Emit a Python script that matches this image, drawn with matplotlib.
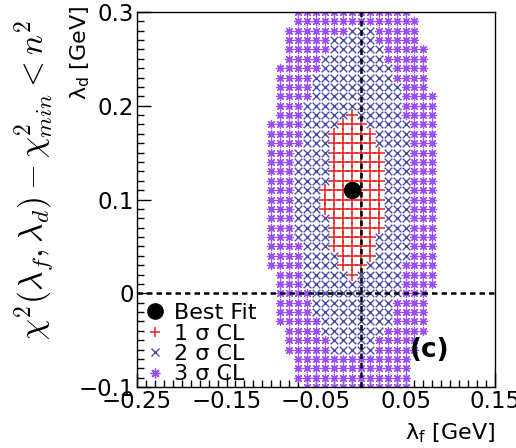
import numpy as np
import matplotlib
matplotlib.use('Agg')
import matplotlib.pyplot as plt
from matplotlib.lines import Line2D

# scan grid (GeV)
lam_f = [-0.10, -0.09, -0.08, -0.07, -0.06, -0.05, -0.04, -0.03, -0.02, -0.01,
         0.00, 0.01, 0.02, 0.03, 0.04, 0.05, 0.06, 0.07, 0.08]
lam_d = [0.30, 0.29, 0.28, 0.27, 0.26, 0.25, 0.24, 0.23, 0.22, 0.21, 0.20,
         0.19, 0.18, 0.17, 0.16, 0.15, 0.14, 0.13, 0.12, 0.11, 0.10,
         0.09, 0.08, 0.07, 0.06, 0.05, 0.04, 0.03, 0.02, 0.01, 0.00,
         -0.01, -0.02, -0.03, -0.04, -0.05, -0.06, -0.07, -0.08, -0.09, -0.10]

N = np.nan
# 3 sigma region extent per row
cl3_lo = [-0.07, -0.07, -0.08, -0.08, -0.08, -0.08, -0.09, -0.09, -0.09, -0.09, -0.09,
          -0.09, -0.10, -0.10, -0.10, -0.10, -0.10, -0.10, -0.10, -0.10, -0.10,
          -0.10, -0.10, -0.10, -0.10, -0.10, -0.10, -0.10, -0.09, -0.09, -0.09,
          -0.09, -0.09, -0.09, -0.08, -0.08, -0.08, -0.07, -0.07, -0.07, -0.06]
cl3_hi = [0.05, 0.06, 0.06, 0.06, 0.07, 0.07, 0.07, 0.07, 0.07, 0.08, 0.08,
          0.08, 0.08, 0.08, 0.08, 0.08, 0.08, 0.08, 0.08, 0.08, 0.08,
          0.08, 0.08, 0.08, 0.08, 0.08, 0.08, 0.08, 0.08, 0.08, 0.07,
          0.07, 0.07, 0.07, 0.07, 0.06, 0.06, 0.05, 0.05, 0.05, 0.05]
# 2 sigma region extent per row
cl2_lo = [N, N, -0.01, -0.03, -0.03, -0.04, -0.04, -0.05, -0.05, -0.05, -0.06,
          -0.06, -0.06, -0.06, -0.06, -0.07, -0.07, -0.07, -0.07, -0.07, -0.07,
          -0.07, -0.07, -0.07, -0.07, -0.06, -0.06, -0.06, -0.06, -0.06, -0.05,
          -0.05, -0.05, -0.04, -0.04, -0.03, -0.03, N, N, N, N]
cl2_hi = [N, N, 0.01, 0.01, 0.02, 0.02, 0.03, 0.03, 0.04, 0.04, 0.04,
          0.04, 0.05, 0.05, 0.05, 0.05, 0.05, 0.05, 0.05, 0.05, 0.05,
          0.05, 0.05, 0.05, 0.05, 0.05, 0.05, 0.04, 0.04, 0.04, 0.04,
          0.03, 0.03, 0.03, 0.02, 0.01, 0.01, N, N, N, N]
# 1 sigma region extent per row
cl1_lo = [N, N, N, N, N, N, N, N, N, N, N,
          -0.01, -0.02, -0.03, -0.03, -0.03, -0.03, -0.03, -0.03, -0.04, -0.04,
          -0.04, -0.03, -0.03, -0.03, -0.03, -0.02, -0.02, -0.01, N, N,
          N, N, N, N, N, N, N, N, N, N]
cl1_hi = [N, N, N, N, N, N, N, N, N, N, N,
          -0.01, 0.00, 0.01, 0.01, 0.02, 0.02, 0.02, 0.02, 0.02, 0.02,
          0.02, 0.02, 0.02, 0.01, 0.01, 0.01, 0.00, -0.01, N, N,
          N, N, N, N, N, N, N, N, N, N]

best_fit_f = -0.01
best_fit_d = 0.11

x_ticks = [-0.25, -0.15, -0.05, 0.05, 0.15]
x_ticklabels = ['\u22120.25', '\u22120.15', '\u22120.05', '0.05', '0.15']
y_ticks = [-0.1, 0.0, 0.1, 0.2, 0.3]
y_ticklabels = ['\u22120.1', '0', '0.1', '0.2', '0.3']

# classify grid points
def inside(v, lo, hi):
    return (not np.isnan(lo)) and (lo - 1e-9 <= v <= hi + 1e-9)

pts = {1: ([], []), 2: ([], []), 3: ([], [])}
for i, yd in enumerate(lam_d):
    for xf in lam_f:
        if not inside(xf, cl3_lo[i], cl3_hi[i]):
            continue
        if inside(xf, cl1_lo[i], cl1_hi[i]):
            k = 1
        elif inside(xf, cl2_lo[i], cl2_hi[i]):
            k = 2
        else:
            k = 3
        pts[k][0].append(xf)
        pts[k][1].append(yd)

c_red = '#e32222'
c_blue = '#4a4aaa'
c_purple = '#9b50f5'

fig = plt.figure(figsize=(5.16, 4.48), dpi=100)
ax = fig.add_axes([137/516, 61/448, 358/516, 375/448])

star = (8, 2, 0)
ax.scatter(pts[3][0], pts[3][1], marker=star, s=34, color=c_purple, linewidths=0.9, zorder=2)
ax.scatter(pts[2][0], pts[2][1], marker='x', s=30, color=c_blue, linewidths=1.0, zorder=2)
ax.scatter(pts[1][0], pts[1][1], marker='+', s=80, color=c_red, linewidths=1.1, zorder=2)

ax.axvline(0, color='black', lw=1.8, ls=(0, (2.2, 1.6)), zorder=3)
ax.axhline(0, color='black', lw=1.8, ls=(0, (2.2, 1.6)), zorder=3)

ax.plot([best_fit_f], [best_fit_d], 'o', color='black', ms=11.5, zorder=4)

ax.set_xlim(-0.25, 0.15)
ax.set_ylim(-0.1, 0.3)
ax.set_xticks(x_ticks)
ax.set_xticklabels(x_ticklabels)
ax.set_yticks(y_ticks)
ax.set_yticklabels(y_ticklabels)
ax.xaxis.set_minor_locator(matplotlib.ticker.MultipleLocator(0.01))
ax.yaxis.set_minor_locator(matplotlib.ticker.MultipleLocator(0.01))
ax.tick_params(which='both', direction='in', top=False, right=False, width=1.0)
ax.tick_params(which='major', length=10, labelsize=16.5, pad=2)
ax.tick_params(which='minor', length=5)
for sp in ax.spines.values():
    sp.set_linewidth(1.0)

fig.text(495/516, 1 - 433/448, r'$\mathregular{\lambda_{f}}$ [GeV]', fontsize=16,
         ha='right', va='center')
fig.text(80/516, 1 - 5/448, r'$\mathregular{\lambda_{d}}$ [GeV]', fontsize=16,
         ha='center', va='top', rotation=90)
fig.text(35/516, 1 - 180/448, r'$\chi^2(\lambda_f,\lambda_d)-\chi^2_{min}<n^2$',
         fontsize=24, ha='center', va='center', rotation=90, math_fontfamily='cm')
ax.text(0.818, 0.099, '(c)', transform=ax.transAxes, fontsize=19, fontweight='bold',
        ha='center', va='center')

handles = [
    Line2D([], [], ls='none', marker='o', color='black', ms=11),
    Line2D([], [], ls='none', marker='+', color=c_red, ms=7, mew=1.1),
    Line2D([], [], ls='none', marker='x', color=c_blue, ms=6, mew=1.0),
    Line2D([], [], ls='none', marker=star, color=c_purple, ms=7, mew=1.0),
]
labels = ['Best Fit', '1 \u03c3 CL', '2 \u03c3 CL', '3 \u03c3 CL']
ax.legend(handles, labels, loc='lower left', bbox_to_anchor=(0.0, -0.005), frameon=False,
          fontsize=16, labelspacing=0.02, handletextpad=0.25, handlelength=1.2,
          borderpad=0.2, borderaxespad=0.0)

fig.savefig('out.png', dpi=100)
